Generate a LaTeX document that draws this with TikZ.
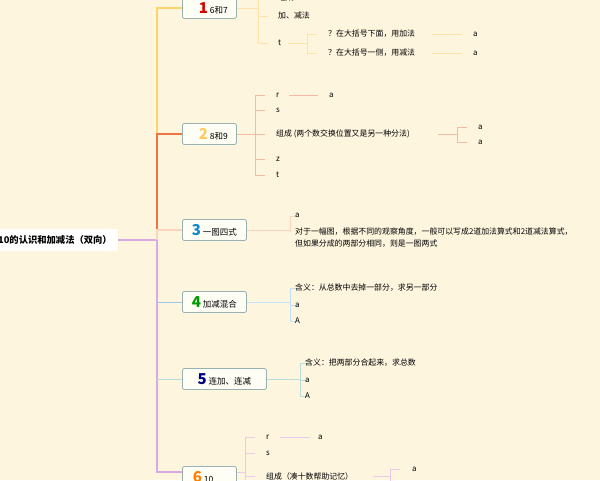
\documentclass[tikz,border=0pt]{standalone}
\usepackage{fontspec}
\setmainfont{Noto Sans CJK SC}
\begin{document}
\begin{tikzpicture}[x=1pt,y=-1pt,
 box/.style={draw=teal!35!gray!60,fill=yellow!4,rounded corners=1.5pt,line width=0.8pt,inner sep=3pt,anchor=west,minimum height=21pt,font=\fontsize{8.5}{9}\selectfont},
 lf/.style={anchor=west,font=\fontsize{7.9}{12}\selectfont,inner sep=1pt}]
\definecolor{bg}{HTML}{FEF5DF}
\definecolor{cY}{HTML}{FDD36A}\definecolor{cO}{HTML}{EE7440}\definecolor{cP}{HTML}{FBD3C0}
\definecolor{cV}{HTML}{D9A9E1}\definecolor{cB}{HTML}{9DC8EE}\definecolor{cT}{HTML}{B6DED8}
\definecolor{cY2}{HTML}{FDE3A6}\definecolor{cO2}{HTML}{F7B9A0}\definecolor{cV2}{HTML}{EBC9EF}
\fill[bg] (0,0) rectangle (600,480);
\useasboundingbox (0,0) rectangle (600,480);
\begin{scope}
\clip (0,0) rectangle (600,480);
\node[fill=white,rounded corners=3pt,anchor=east,minimum height=22pt,inner sep=6pt,font=\fontsize{9.3}{10}\selectfont\bfseries] (root) at (118,240) {6～10的认识和加减法（双向）};
% boxes
\node[box,minimum width=54pt] (b1) at (182,8) {\hspace{8pt}\textcolor{red!85!black}{\fontsize{15}{15}\selectfont\bfseries 1} 6和7};
\node[box,minimum width=54pt] (b2) at (182,134) {\hspace{8pt}\textcolor{cY!90!orange}{\fontsize{15}{15}\selectfont\bfseries 2} 8和9};
\node[box,minimum width=64pt] (b3) at (182,230) {\textcolor{cyan!70!blue}{\fontsize{15}{15}\selectfont\bfseries 3} 一图四式};
\node[box,minimum width=64pt] (b4) at (182,302) {\textcolor{green!60!black}{\fontsize{15}{15}\selectfont\bfseries 4} 加减混合};
\node[box,minimum width=84pt] (b5) at (182,379) {\textcolor{blue!50!black}{\fontsize{15}{15}\selectfont\bfseries 5} 连加、连减};
\node[box,minimum width=54pt] (b6) at (182,477) {\textcolor{orange}{\fontsize{15}{15}\selectfont\bfseries 6} 10\phantom{xxx}};
% trunk
\draw[cV,line width=2pt] (root.east) -- (157,240) -- (157,472) -- (b6.west|-0,472);
\draw[cY,line width=2pt] (157,240) -- (157,8) -- (b1.west);
\draw[cO,line width=2pt] (157,240) -- (157,134) -- (b2.west);
\draw[cP,line width=2pt] (157,240) -- (157,230) -- (b3.west);
\draw[cB,line width=1pt] (157,302) -- (b4.west);
\draw[cT,line width=1pt] (157,379) -- (b5.west);
% box1 children
\draw[cY2,line width=1pt] (b1.east) -- (258,8) (258,-2)--(258,43) (258,-2)--(268,-2) (258,16)--(268,16) (258,43)--(268,43);
\node[lf] (c11) at (277,-2) {组成};
\node[lf] (c12) at (277,16) {加、减法};
\node[lf] (c13) at (277,43) {t};
\draw[cY2,line width=1pt] (288,43)--(307,43) (307,34)--(307,53) (307,34)--(317,34) (307,53)--(317,53);
\node[lf] (d1) at (327,34) {？在大括号下面，用加法};
\node[lf] (d2) at (327,53) {？在大括号一侧，用减法};
\node[lf] (e1) at (472,34) {a};
\node[lf] (e2) at (472,53) {a};
\draw[cY2,line width=1pt] (432,34) -- (462,34) (432,53) -- (462,53);
% box2 children
\draw[cO2,line width=1pt] (b2.east) -- (255,134) (255,95)--(255,175);
\foreach \y in {95,110,134,159,175} \draw[cO2,line width=1pt] (255,\y)--(265,\y);
\node[lf] (r2) at (275,95) {r};
\node[lf] (s2) at (275,110) {s};
\node[lf] (z2) at (275,134) {组成 (两个数交换位置又是另一种分法)};
\node[lf] (zz) at (275,159) {z};
\node[lf] (tt) at (275,175) {t};
\node[lf] (ra) at (328,95) {a};
\draw[cO2,line width=1pt] (289,95)--(318,95);
\draw[cO2,line width=1pt] (438,134)--(457,134) (457,127)--(457,142) (457,127)--(467,127) (457,142)--(467,142);
\node[lf] (za) at (477,127) {a};
\node[lf] (zb) at (477,142) {a};
% box3
\draw[cP,line width=1pt] (b3.east) -- (290,230) (290,216)--(290,232) (290,216)--(296,216);
\node[lf] (a3) at (294,215) {a};
\node[lf,align=left] (t3) at (294,238) {对于一幅图，根据不同的观察角度，一般可以写成2道加法算式和2道减法算式，\\但如果分成的两部分相同，则是一图两式};
% box4
\draw[cB!60,line width=1pt] (b4.east) -- (290,302) (290,288)--(290,321);
\foreach \y in {288,305,321} \draw[cB!60,line width=1pt] (290,\y)--(298,\y);
\node[lf] (h4) at (294,288) {含义：从总数中去掉一部分，求另一部分};
\node[lf] (a4) at (294,305) {a};
\node[lf] (A4) at (294,321) {A};
% box5
\draw[cT,line width=1pt] (b5.east) -- (300,379) (300,363)--(300,396);
\foreach \y in {363,380,396} \draw[cT,line width=1pt] (300,\y)--(308,\y);
\node[lf] (h5) at (304,363) {含义：把两部分合起来，求总数};
\node[lf] (a5) at (304,380) {a};
\node[lf] (A5) at (304,396) {A};
% box6
\draw[cV2,line width=1pt] (b6.east|-0,472) -- (245,472) (245,437)--(245,480);
\foreach \y in {437,453,476} \draw[cV2,line width=1pt] (245,\y)--(255,\y);
\node[lf] (r6) at (265,437) {r};
\node[lf] (s6) at (265,453) {s};
\node[lf] (z6) at (265,476) {组成（凑十数帮助记忆）};
\draw[cV2,line width=1pt] (280,437)--(310,437);
\node[lf] (a6) at (317,437) {a};
\draw[cV2,line width=1pt] (373,476)--(390,476) (390,469)--(390,485) (390,469)--(400,469);
\node[lf] (b6a) at (411,469) {a};
\end{scope}
\end{tikzpicture}
\end{document}
